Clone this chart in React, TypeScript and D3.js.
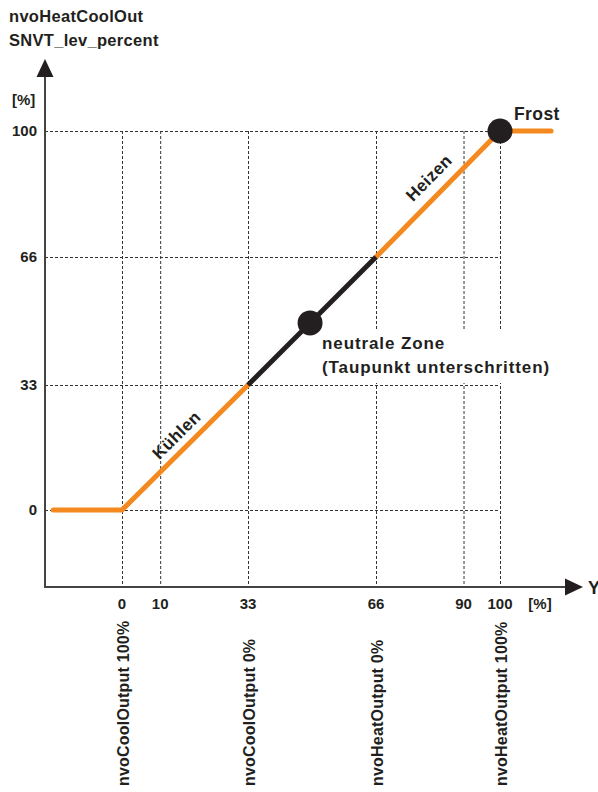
import React, { useEffect, useRef } from 'react';
import * as d3 from 'd3';

// characteristic: nvoHeatCoolOut over Y [%]
const yTicks = [0, 33, 66, 100];
const xTicks = [0, 10, 33, 66, 90, 100];
const coolSegment: [number, number][] = [[-18, 0], [0, 0], [33, 33]];
const neutralSegment: [number, number][] = [[33, 33], [66, 66]];
const heatSegment: [number, number][] = [[66, 66], [100, 100], [114, 100]];
const markers: [number, number][] = [[49, 49], [100, 100]];
const outputLabels = [
  { x: 0, text: 'nvoCoolOutput 100%' },
  { x: 33, text: 'nvoCoolOutput 0%' },
  { x: 66, text: 'nvoHeatOutput 0%' },
  { x: 100, text: 'nvoHeatOutput 100%' },
];

const W = 598;
const H = 792;
const FONT = '"Liberation Sans", Arial, Helvetica, sans-serif';
const ORANGE = '#f48a1f';
const DARK = '#231f20';

function Chart() {
  const ref = useRef<SVGSVGElement>(null);

  useEffect(() => {
    const svg = d3.select(ref.current);
    svg.selectAll('*').remove();

    const x = d3.scaleLinear().domain([0, 33, 66, 100]).range([122, 248, 376, 500]);
    const y = d3.scaleLinear().domain([0, 33, 66, 100]).range([510, 385, 257, 131]);
    const axisX = 45;
    const axisY = 587;

    const g = svg.append('g').attr('font-family', FONT).attr('font-weight', 'bold').attr('fill', DARK);

    // title
    g.append('text').attr('x', 9).attr('y', 22).attr('font-size', 16.5).attr('letter-spacing', 0.3).text('nvoHeatCoolOut');
    g.append('text').attr('x', 9).attr('y', 46).attr('font-size', 16.5).attr('letter-spacing', 0.3).text('SNVT_lev_percent');

    // grid
    const grid = g.append('g').attr('stroke', '#333').attr('stroke-width', 1).attr('stroke-dasharray', '3,2').attr('fill', 'none');
    grid.selectAll('.h').data(yTicks).enter().append('line')
      .attr('x1', axisX).attr('x2', x(100))
      .attr('y1', d => y(d) + 0.5).attr('y2', d => y(d) + 0.5);
    grid.selectAll('.v').data(xTicks).enter().append('line')
      .attr('x1', d => x(d) + 0.5).attr('x2', d => x(d) + 0.5)
      .attr('y1', y(100)).attr('y2', axisY);

    // axes
    g.append('line').attr('x1', axisX).attr('x2', axisX).attr('y1', 76).attr('y2', axisY + 1)
      .attr('stroke', '#444').attr('stroke-width', 2);
    g.append('path').attr('d', `M${axisX},59 L${axisX - 8.5},77 L${axisX + 8.5},77 Z`).attr('fill', DARK);
    g.append('line').attr('x1', axisX - 1).attr('x2', 566).attr('y1', axisY).attr('y2', axisY)
      .attr('stroke', '#444').attr('stroke-width', 2);
    g.append('path').attr('d', `M583,${axisY} L565,${axisY - 8.5} L565,${axisY + 8.5} Z`).attr('fill', DARK);
    g.append('text').attr('x', 588).attr('y', axisY + 7).attr('font-size', 18).text('Y');

    // tick labels
    g.selectAll('.yl').data(yTicks).enter().append('text')
      .attr('x', 37).attr('y', d => y(d)).attr('dy', '0.35em').attr('text-anchor', 'end')
      .attr('font-size', 15).text(d => d);
    g.append('text').attr('x', 12).attr('y', 105).attr('font-size', 15).text('[%]');
    g.selectAll('.xl').data(xTicks).enter().append('text')
      .attr('x', d => x(d)).attr('y', axisY + 17).attr('dy', '0.35em').attr('text-anchor', 'middle')
      .attr('font-size', 15).text(d => d);
    g.append('text').attr('x', 540).attr('y', axisY + 17).attr('dy', '0.35em').attr('text-anchor', 'middle')
      .attr('font-size', 15).text('[%]');

    // white patch behind the neutral zone note
    g.append('rect').attr('x', 320).attr('y', 331).attr('width', 240).attr('height', 52).attr('fill', '#fff');

    // characteristic line
    const line = d3.line<[number, number]>().x(d => x(d[0])).y(d => y(d[1]));
    g.append('path').datum(coolSegment).attr('d', line).attr('fill', 'none')
      .attr('stroke', ORANGE).attr('stroke-width', 5).attr('stroke-linecap', 'round');
    g.append('path').datum(heatSegment).attr('d', line).attr('fill', 'none')
      .attr('stroke', ORANGE).attr('stroke-width', 5).attr('stroke-linecap', 'round');
    g.append('path').datum(neutralSegment).attr('d', line).attr('fill', 'none')
      .attr('stroke', DARK).attr('stroke-width', 5);

    g.selectAll('.dot').data(markers).enter().append('circle')
      .attr('cx', d => x(d[0])).attr('cy', d => y(d[1]))
      .attr('r', (d, i) => (i === 0 ? 12.5 : 12.5)).attr('fill', DARK);

    // slope labels, set a little above the line along its normal
    const slopeLabel = (a: number, b: number, at: number, off: number, text: string) => {
      const dx = x(b) - x(a);
      const dy = y(b) - y(a);
      const len = Math.hypot(dx, dy);
      const ang = (Math.atan2(dy, dx) * 180) / Math.PI;
      const px = x(at) + (dy / len) * off;
      const py = y(at) - (dx / len) * off;
      g.append('text').attr('transform', `translate(${px},${py}) rotate(${ang})`)
        .attr('text-anchor', 'middle').attr('font-size', 17).attr('letter-spacing', 0.4).text(text);
    };
    slopeLabel(0, 33, 17, 9, 'Kühlen');
    slopeLabel(66, 100, 84, 12, 'Heizen');

    g.append('text').attr('x', 514).attr('y', 120).attr('font-size', 17.5).attr('letter-spacing', 0.4).text('Frost');
    g.append('text').attr('x', 322).attr('y', 349).attr('font-size', 17).attr('letter-spacing', 0.9).text('neutrale Zone');
    g.append('text').attr('x', 322).attr('y', 373).attr('font-size', 17).attr('letter-spacing', 0.9).text('(Taupunkt unterschritten)');

    // output labels under the x axis
    g.selectAll('.ol').data(outputLabels).enter().append('text')
      .attr('transform', d => `translate(${x(d.x) + 7},786) rotate(-90)`)
      .attr('font-size', 16).attr('letter-spacing', 0.2).text(d => d.text);
  }, []);

  return <svg ref={ref} width={W} height={H} style={{ position: 'absolute', left: 0, top: 0, background: '#fff' }} />;
}

export default function App() {
  return <Chart />;
}
